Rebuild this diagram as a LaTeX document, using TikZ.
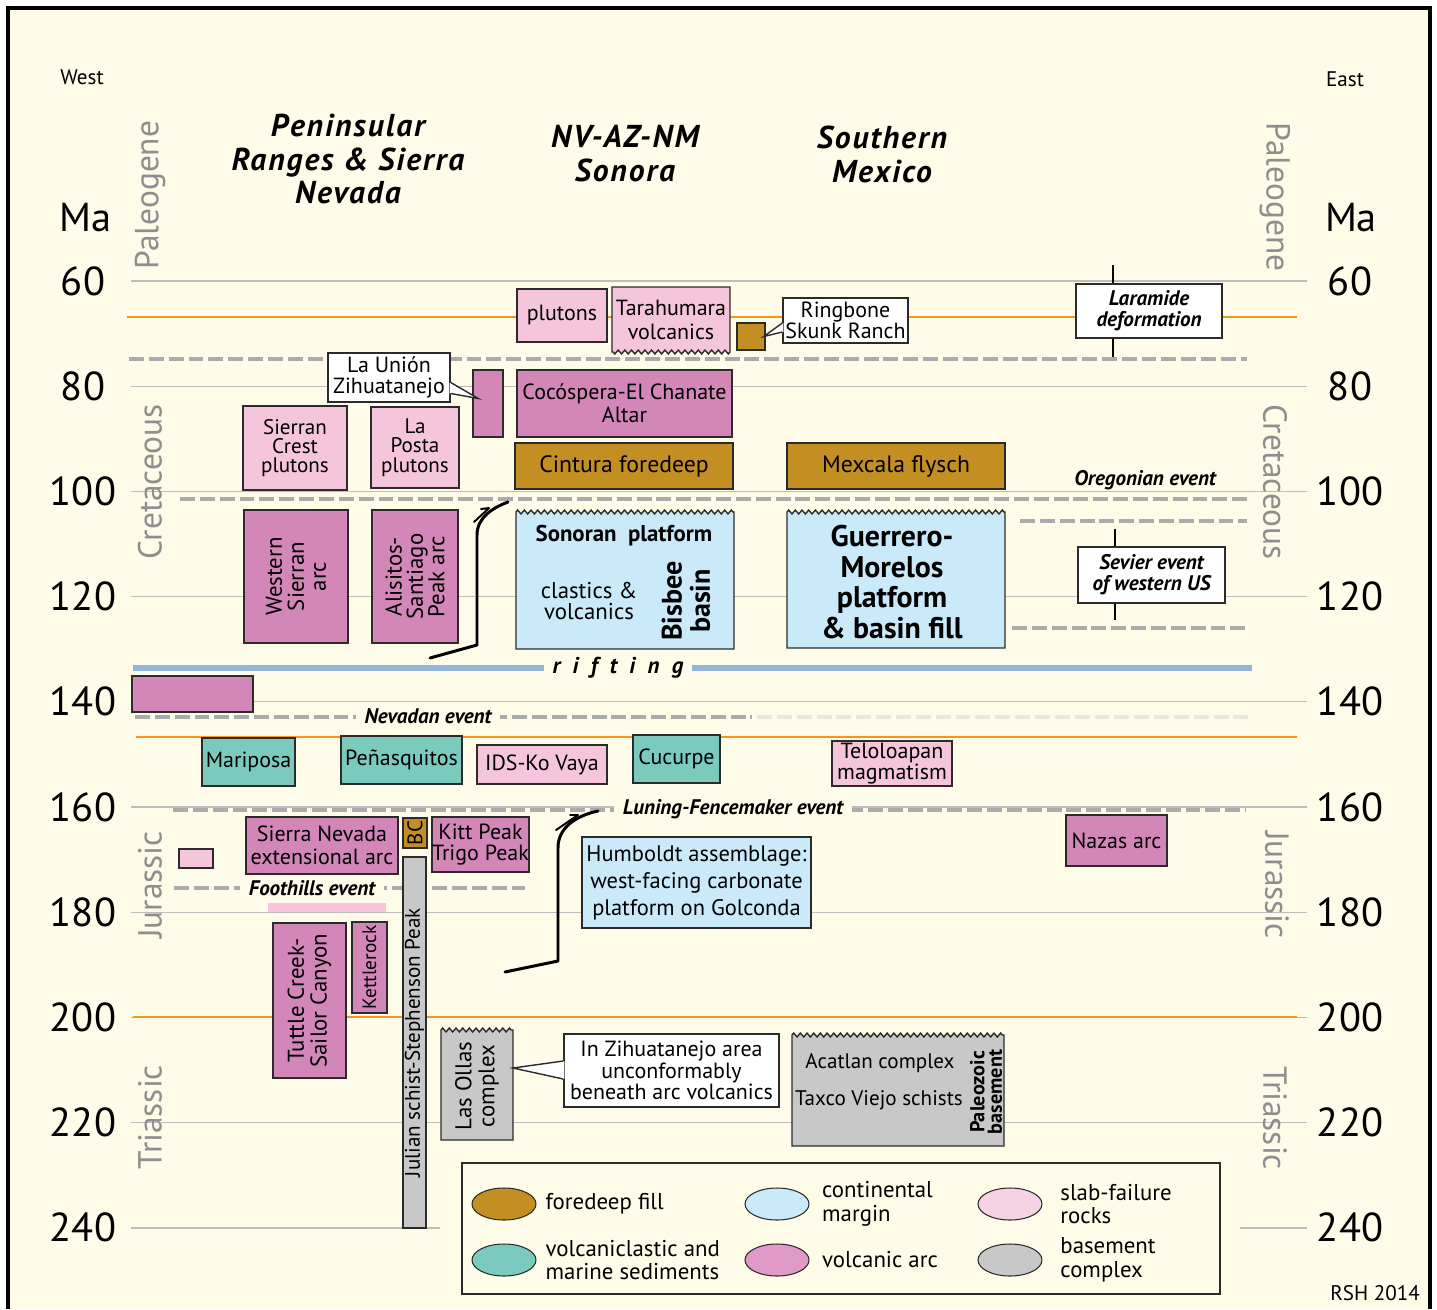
\documentclass[tikz,border=0pt]{standalone}
\usepackage{fontspec}
\setmainfont{PT Sans}
\usetikzlibrary{positioning,fit,calc,shapes.geometric,decorations.pathmorphing}

\definecolor{paper}{HTML}{FEFBE9}
\definecolor{gridgray}{HTML}{BDBDBD}
\definecolor{dashgray}{HTML}{ABABAB}
\definecolor{fadegray}{HTML}{E8E8DE}
\definecolor{epochgray}{HTML}{8E8E8E}
\definecolor{edge}{HTML}{2B2B2B}
\definecolor{orangeline}{HTML}{F7941E}
\definecolor{riftblue}{HTML}{93B5D8}
\definecolor{slabpink}{HTML}{F5C5DC}
\definecolor{arcmag}{HTML}{D386B8}
\definecolor{fdbrown}{HTML}{C38F23}
\definecolor{vsteal}{HTML}{7ACBBE}
\definecolor{cmblue}{HTML}{CAE9F9}
\definecolor{bsgray}{HTML}{C8C8C8}
\definecolor{legpink}{HTML}{F7D2E5}
\definecolor{legmag}{HTML}{E09AC7}

\newcommand{\fsz}[2]{\fontsize{#1}{#2}\selectfont}

\tikzset{
  gridline/.style={gridgray,line width=0.6pt},
  epochline/.style={orangeline,line width=1.3pt},
  eventline/.style={dashgray,line width=2.8pt,dash pattern=on 8.5pt off 2.8pt},
  lbl/.style={inner sep=0pt,align=center,font=\fsz{12.5}{13.2}},
  geo/.style={inner sep=0pt,draw=edge,line width=0.8pt},
  slabbox/.style={geo,fill=slabpink},
  arcbox/.style={geo,fill=arcmag},
  fdbox/.style={geo,fill=fdbrown},
  vsbox/.style={geo,fill=vsteal},
  cmbox/.style={geo,fill=cmblue},
  bsbox/.style={geo,fill=bsgray},
  callout/.style={geo,fill=white},
  ptr/.style={edge,line width=0.8pt,line join=miter},
  zz/.style={decoration={zigzag,segment length=3.8pt,amplitude=1.1pt}},
  event/.style={inner xsep=5pt,inner ysep=1pt,fill=paper,font=\fsz{12}{13}\bfseries\itshape},
  tick/.style={inner sep=0pt,font=\fsz{23}{23}},
  epoch/.style={inner sep=0pt,font=\fsz{19}{19},text=epochgray},
  region/.style={inner sep=0pt,align=center,font=\fsz{18}{19.3}\bfseries\itshape\addfontfeature{LetterSpace=6}},
  thrust/.style={line width=1.7pt,line cap=round,line join=round},
  swatch/.style={ellipse,draw=edge,line width=0.6pt,minimum width=1.28cm,minimum height=0.64cm,inner sep=0pt},
  legtext/.style={inner sep=0pt,font=\fsz{13}{13.6},align=left}
}

\begin{document}
\begin{tikzpicture}[x=0.02cm,y=-0.02cm]
  \useasboundingbox (0,0) rectangle (1437,1309);
  \fill[white] (0,0) rectangle (1437,1309);
  \fill[paper] (8,8) rectangle (1430,1309);
  \draw[line width=2.8pt] (8,1309) -- (8,8) -- (1430,8) -- (1430,1309);

  % time scale
  \foreach \m in {60,80,...,220} {
    \pgfmathsetmacro\yy{281+(\m-60)*5.26}
    \draw[gridline] (131,\yy) -- (1307,\yy);
  }
  \draw[gridline] (131,1228) -- (440,1228);
  \draw[gridline] (1240,1228) -- (1307,1228);
  \foreach \m in {60,80,...,240} {
    \pgfmathsetmacro\yy{281+(\m-60)*5.26}
    \node[tick] (tl\m) at (83,\yy) {\m};
    \node[tick] (tr\m) at (1350,\yy) {\m};
  }
  \node[tick] (mal) at (86,218) {Ma};
  \node[tick] (mar) at (1351,218) {Ma};
  \node[inner sep=0pt,font=\fsz{12}{12}] (west) at (82,77) {West};
  \node[inner sep=0pt,font=\fsz{12}{12}] (east) at (1345,79) {East};

  \node[epoch,rotate=90] (paleol) at (150,195) {Paleogene};
  \node[epoch,rotate=-90] (paleor) at (1275,197) {Paleogene};
  \node[epoch,rotate=90] (cretl) at (150,482) {Cretaceous};
  \node[epoch,rotate=-90] (cretr) at (1275,482) {Cretaceous};
  \node[epoch,rotate=90] (jurl) at (150,885) {Jurassic};
  \node[epoch,rotate=-90] (jurr) at (1277,885) {Jurassic};
  \node[epoch,rotate=90] (tril) at (150,1117) {Triassic};
  \node[epoch,rotate=-90] (trir) at (1275,1118) {Triassic};

  \node[region] (penin) at (348,159) {Peninsular\\Ranges \& Sierra\\Nevada};
  \node[region] (nvaz) at (625,154) {NV-AZ-NM\\Sonora};
  \node[region] (smex) at (882,154) {Southern\\Mexico};

  % period boundaries and events
  \draw[epochline] (127,317) -- (1297,317);
  \draw[epochline] (136,737) -- (1297,737);
  \draw[epochline] (133,1017) -- (1297,1017);

  \draw[eventline] (129,359) -- (1247,359);
  \draw[eventline] (180,499) -- (1247,499);
  \draw[eventline] (1020,521) -- (1247,521);
  \draw[eventline] (1012,628) -- (1247,628);
  \draw[eventline] (135,717) -- (752,717);
  \draw[eventline,fadegray] (757,717) -- (1252,717);
  \draw[eventline] (173,810) -- (1246,810);
  \draw[eventline] (174,888) -- (525,888);
  \draw[riftblue,line width=3.3pt] (133,668) -- (1252,668);

  \draw[line width=0.8pt] (1113,265) -- (1113,357);
  \draw[line width=0.8pt] (1115,529) -- (1115,620);

  \node[event,fill=none] (oreg) at (1145,480) {Oregonian event};
  \node[event] (nevad) at (428,716) {Nevadan event};
  \node[event] (luning) at (733,809) {Luning-Fencemaker event};
  \node[event] (foot) at (312,888) {Foothills event};
  \node[event,font=\fsz{13}{13}\bfseries\itshape] (rift) at (618,668)
    {r\hspace{7pt}i\hspace{7pt}f\hspace{7pt}t\hspace{7pt}i\hspace{7pt}n\hspace{7pt}g};

  % Paleogene - Late Cretaceous
  \node[slabbox,fit={(517,289) (607,342)}] (plutons) {};
  \node[lbl] (plutonst) at (plutons) {plutons};
  \path[draw=edge,fill=slabpink,line width=0.8pt]
    (612,352) -- (612,287) -- (730,287) -- (730,352) decorate[zz]{-- (612,352)} -- cycle;
  \node[lbl] (tarah) at (671,320) {Tarahumara\\volcanics};
  \node[fdbox,fit={(737,323) (765,350)}] (rbox) {};
  \node[callout,fit={(783,298) (908,343)}] (ringbone) {};
  \node[lbl,font=\fsz{12.5}{12}] (ringbonet) at (ringbone) {Ringbone\\Skunk Ranch};
  \fill[white] ($(ringbone.west)+(1,2.5)$) -- ($(rbox.east)+(-2,0)$) -- ($(ringbone.west)+(1,11.5)$) -- cycle;
  \draw[ptr] ($(ringbone.west)+(0,2.5)$) -- ($(rbox.east)+(-2,0)$) -- ($(ringbone.west)+(0,11.5)$);

  \node[callout,fit={(1076,284) (1222,338)}] (laramide) {};
  \node[lbl,font=\fsz{12}{12}\bfseries\itshape] (laramidet) at (laramide) {Laramide\\deformation};

  \node[arcbox,fit={(473,370) (503,437)}] (zarc) {};
  \node[callout,fit={(328,353) (450,402)}] (launion) {};
  \node[lbl,font=\fsz{12.5}{12}] (laniont) at (launion) {La Unión\\Zihuatanejo};
  \fill[white] ($(launion.east)+(-1,5)$) -- ($(zarc.west)+(6,-5)$) -- ($(launion.east)+(-1,16)$) -- cycle;
  \draw[ptr] ($(launion.east)+(0,5)$) -- ($(zarc.west)+(6,-5)$) -- ($(launion.east)+(0,16)$);

  \node[arcbox,fit={(517,370) (732,437)}] (cocosp) {};
  \node[lbl] (cocospt) at (cocosp) {Cocóspera-El Chanate\\Altar};
  \node[slabbox,fit={(243,406) (347,490)}] (sierrancrest) {};
  \node[lbl,font=\fsz{12}{11}] (sierrancrestt) at (sierrancrest) {Sierran\\Crest\\plutons};
  \node[slabbox,fit={(371,407) (459,488)}] (laposta) {};
  \node[lbl,font=\fsz{12}{11}] (lapostat) at (laposta) {La\\Posta\\plutons};
  \node[fdbox,fit={(515,443) (733,489)}] (cintura) {};
  \node[lbl,font=\fsz{13.5}{14}] (cinturat) at (cintura) {Cintura foredeep};
  \node[fdbox,fit={(787,443) (1005,489)}] (mexcala) {};
  \node[lbl,font=\fsz{13.5}{14}] (mexcalat) at (mexcala) {Mexcala flysch};

  % Early Cretaceous
  \node[arcbox,fit={(244,510) (348,643)}] (wsarc) {};
  \node[lbl,rotate=90,font=\fsz{13}{12.5}] (wsarct) at (wsarc) {Western\\Sierran\\arc};
  \node[arcbox,fit={(372,510) (458,643)}] (alisitos) {};
  \node[lbl,rotate=90,font=\fsz{13}{12.2}] (alisitost) at (alisitos) {Alisitos-\\Santiago\\Peak arc};

  \path[draw=edge,fill=cmblue,line width=0.8pt]
    (516,649) -- (516,512) decorate[zz]{-- (734,512)} -- (734,649) -- cycle;
  \node[lbl,font=\fsz{13}{13}\bfseries] (sonoran) at (624,536) {Sonoran\ \ platform};
  \node[lbl,font=\fsz{13}{12.5}] (clastics) at (589,601) {clastics \&\\volcanics};
  \node[lbl,rotate=90,font=\fsz{16}{16}\bfseries] (bisbee) at (686,601) {Bisbee\\basin};

  \path[draw=edge,fill=cmblue,line width=0.8pt]
    (787,648) -- (787,512) decorate[zz]{-- (1005,512)} -- (1005,648) -- cycle;
  \node[lbl,font=\fsz{17}{17.3}\bfseries] (guerrero) at (892,582) {Guerrero-\\Morelos\\platform\\\& basin fill};

  \node[callout,fit={(1078,547) (1225,603)}] (sevier) {};
  \node[lbl,font=\fsz{12}{12}\bfseries\itshape] (seviert) at (sevier) {Sevier event\\of western US};

  % Late Jurassic
  \node[arcbox,fit={(132,676) (253,712)}] (oldarc) {};
  \node[vsbox,fit={(202,738) (295,786)}] (mariposa) {};
  \node[lbl] (mariposat) at (mariposa) {Mariposa};
  \node[vsbox,fit={(341,736) (462,784)}] (penasq) {};
  \node[lbl] (penasqt) at (penasq) {Peñasquitos};
  \node[slabbox,fit={(477,745) (607,784)}] (idskv) {};
  \node[lbl] (idskvt) at (idskv) {IDS-Ko Vaya};
  \node[vsbox,fit={(633,735) (720,783)}] (cucurpe) {};
  \node[lbl] (cucurpet) at (cucurpe) {Cucurpe};
  \node[slabbox,fit={(832,741) (952,786)}] (telolo) {};
  \node[lbl,font=\fsz{12.5}{10.8}] (telolot) at (telolo) {Teloloapan\\magmatism};

  % Middle Jurassic - Triassic
  \node[arcbox,fit={(246,817) (398,874)}] (snext) {};
  \node[lbl,font=\fsz{12.5}{13}] (snextt) at (snext) {Sierra Nevada\\extensional arc};
  \node[fdbox,fit={(403,818) (427,848)}] (bc) {};
  \node[lbl,rotate=90,font=\fsz{12}{12}] (bct) at (bc) {BC};
  \node[arcbox,fit={(432,817) (529,872)}] (kitt) {};
  \node[lbl,font=\fsz{12.5}{12}] (kittt) at (kitt) {Kitt Peak\\Trigo Peak};
  \node[slabbox,fit={(179,849) (213,868)}] (jpink) {};
  \node[inner sep=0pt,fill=slabpink,fit={(268,903) (386,912)}] (pinkbar) {};
  \node[bsbox,fit={(403,857) (426,1228)}] (julian) {};
  \node[lbl,rotate=90,font=\fsz{12}{12}] (juliant) at (julian) {Julian schist-Stephenson Peak};
  \node[cmbox,fit={(582,837) (811,928)}] (humboldt) {};
  \node[lbl,font=\fsz{12.8}{15.3}] (humboldtt) at (humboldt) {Humboldt assemblage:\\west-facing carbonate\\platform on Golconda};
  \node[arcbox,fit={(1066,815) (1167,866)}] (nazas) {};
  \node[lbl] (nazast) at (nazas) {Nazas arc};
  \node[arcbox,fit={(273,923) (346,1078)}] (tuttle) {};
  \node[lbl,rotate=90,font=\fsz{13}{13}] (tuttlet) at (tuttle) {Tuttle Creek-\\Sailor Canyon};
  \node[arcbox,fit={(352,922) (387,1013)}] (kettle) {};
  \node[lbl,rotate=90,font=\fsz{11}{11}] (kettlet) at (kettle) {Kettlerock};

  \path[draw=edge,fill=bsgray,line width=0.8pt]
    (441,1140) -- (441,1030) decorate[zz]{-- (513,1030)} -- (513,1140) -- cycle;
  \coordinate (ollas) at (513,1068);
  \node[lbl,rotate=90,font=\fsz{13}{13}] (ollast) at (477,1086) {Las Ollas\\complex};
  \node[callout,fit={(564,1034) (779,1107)}] (zihcall) {};
  \node[lbl,font=\fsz{12.5}{12.2}] (zihcallt) at (zihcall) {In Zihuatanejo area\\unconformably\\beneath arc volcanics};
  \fill[white] ($(zihcall.west)+(1,-9.5)$) -- (ollas) -- ($(zihcall.west)+(1,8.5)$) -- cycle;
  \draw[ptr] ($(zihcall.west)+(0,-9.5)$) -- (ollas) -- ($(zihcall.west)+(0,8.5)$);

  \path[draw=edge,fill=bsgray,line width=0.8pt]
    (792,1146) -- (792,1035) decorate[zz]{-- (1004,1035)} -- (1004,1146) -- cycle;
  \node[lbl,font=\fsz{12}{12}] (acatlan) at (880,1063) {Acatlan complex};
  \node[lbl,font=\fsz{12}{12}] (taxco) at (879,1100) {Taxco Viejo schists};
  \node[lbl,rotate=90,font=\fsz{11.5}{10}\bfseries] (paleoz) at (986,1092) {Paleozoic\\basement};

  % thrust contacts
  \draw[thrust] (430,658) -- (477,645) -- (477,535) .. controls (477,518) and (492,508) .. (508,502);
  \draw[thrust,line width=1.1pt] (474,522) -- (489,508) -- (481,509);
  \draw[thrust] (505,972) -- (558,961) -- (558,848) .. controls (558,828) and (575,816) .. (598,811);
  \draw[thrust,line width=1.1pt] (556,830) -- (578,815) -- (570,815);

  % legend
  \node[geo,fill=paper,fit={(462,1163) (1220,1294)}] (legend) {};
  \foreach \k/\c/\x/\y/\g/\t in {fd/fdbrown/504/1204/5pt/{foredeep fill},
                                 cm/cmblue/777/1204/7pt/{continental\\margin},
                                 sf/legpink/1010/1204/10pt/{slab-failure\\rocks},
                                 vs/vsteal/504/1260/5pt/{volcaniclastic and\\marine sediments},
                                 va/legmag/777/1260/7pt/{volcanic arc},
                                 bs/bsgray/1010/1260/10pt/{basement\\complex}} {
    \node[swatch,fill=\c] (sw\k) at (\x,\y) {};
    \node[legtext,right=\g of sw\k] (lt\k) {\t};
  }

  \node[inner sep=0pt,font=\fsz{12}{12}] (rsh) at (1375,1293) {RSH 2014};
\end{tikzpicture}
\end{document}
